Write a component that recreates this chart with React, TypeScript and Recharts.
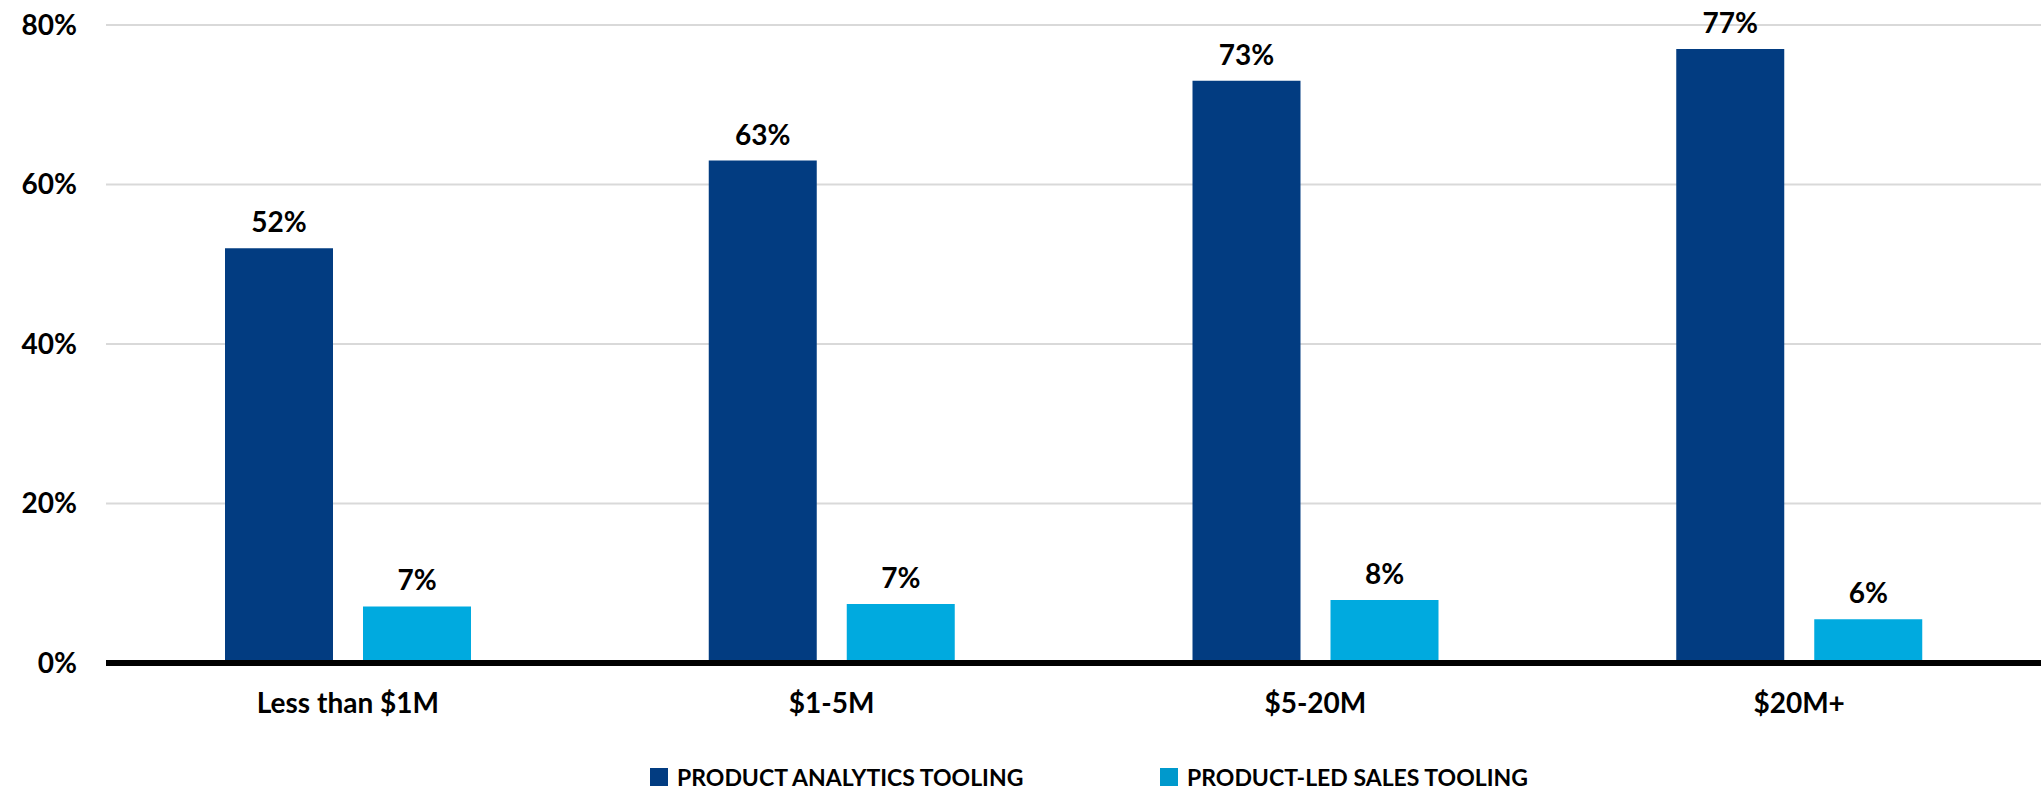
import { BarChart, Bar, XAxis, YAxis, CartesianGrid, Legend, LabelList } from "recharts";

const categories = ["Less than $1M", "$1-5M", "$5-20M", "$20M+"];
const analyticsTooling = [52, 63, 73, 77];
const plsTooling = [7.1, 7.4, 7.9, 5.5];
const yTicks = [0, 20, 40, 60, 80];
const seriesNames = ["PRODUCT ANALYTICS TOOLING", "PRODUCT-LED SALES TOOLING"];

const DARK = "#023C81";
const LIGHT = "#00AADF";
const FONT = "Lato, 'Open Sans', sans-serif";

const data = categories.map((name, i) => ({
  name,
  analytics: analyticsTooling[i],
  pls: plsTooling[i],
}));

const tickStyle = { fill: "#000", fontSize: 28, fontWeight: 700, fontFamily: FONT };

// legend sits under the axis labels, offsets
const renderLegend = () => (
  <div style={{ position: "relative", width: 2041, height: 30, fontFamily: FONT }}>
    {[
      { left: 650, color: DARK, label: seriesNames[0] },
      { left: 1160, color: "#0099CC", label: seriesNames[1] },
    ].map((item) => (
      <div
        key={item.label}
        style={{
          position: "absolute",
          left: item.left,
          top: 10,
          height: 18,
          display: "flex",
          alignItems: "center",
          gap: 9,
          fontSize: 23,
          fontWeight: 700,
          color: "#000",
          whiteSpace: "nowrap",
        }}
      >
        <span style={{ width: 18, height: 18, background: item.color, display: "inline-block" }} />
        <span>{item.label}</span>
      </div>
    ))}
  </div>
);

export default function App() {
  return (
    <div style={{ width: 2041, height: 788, background: "#fff" }}>
      <style>{"body{margin:0}"}</style>
      <BarChart
        width={2041}
        height={788}
        data={data}
        margin={{ top: 25, right: 0, left: 0, bottom: 0 }}
        barSize={108}
        barGap={30}
      >
        <CartesianGrid vertical={false} stroke="#D9D9D9" strokeWidth={2} />
        <YAxis
          domain={[0, 80]}
          ticks={yTicks}
          tickFormatter={(v) => `${v}%`}
          axisLine={false}
          tickLine={false}
          tickSize={0}
          tickMargin={29}
          width={106}
          tick={tickStyle}
        />
        <XAxis
          dataKey="name"
          axisLine={{ stroke: "#000", strokeWidth: 6 }}
          tickLine={false}
          tickSize={0}
          tickMargin={30}
          height={95}
          tick={tickStyle}
        />
        <Legend
          verticalAlign="bottom"
          content={renderLegend}
          wrapperStyle={{ left: 0, bottom: 0, width: 2041, height: 30 }}
        />
        <Bar dataKey="analytics" name={seriesNames[0]} fill={DARK} isAnimationActive={false}>
          <LabelList
            dataKey="analytics"
            position="top"
            offset={16}
            formatter={(v: number) => `${Math.round(v)}%`}
            style={tickStyle}
          />
        </Bar>
        <Bar dataKey="pls" name={seriesNames[1]} fill={LIGHT} isAnimationActive={false}>
          <LabelList
            dataKey="pls"
            position="top"
            offset={16}
            formatter={(v: number) => `${Math.round(v)}%`}
            style={tickStyle}
          />
        </Bar>
      </BarChart>
    </div>
  );
}
